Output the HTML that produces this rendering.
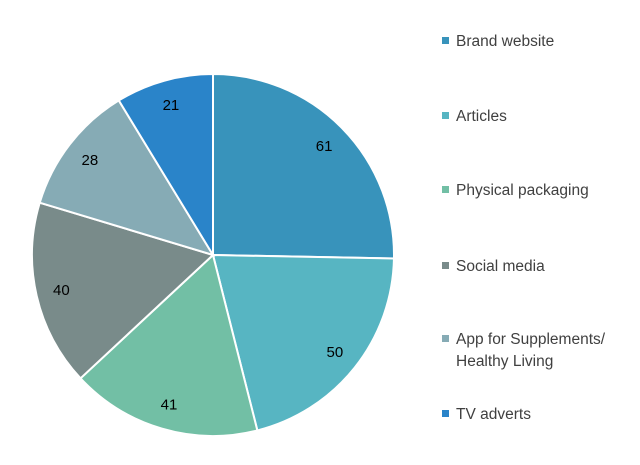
<!DOCTYPE html>
<html><head><meta charset="utf-8"><style>
html,body{margin:0;padding:0;background:#fff;width:640px;height:465px;overflow:hidden;font-family:"Liberation Sans",sans-serif}
</style></head><body>
<svg id="chart" width="640" height="465" xmlns="http://www.w3.org/2000/svg"></svg>
<script>
const categories=["Brand website","Articles","Physical packaging","Social media","App for Supplements/|Healthy Living","TV adverts"];
const values=[61,50,41,40,28,21];
const colors=["#3893bb","#57b5c2","#72bfa5","#798b8a","#86abb5","#2a84c9"];
const svg=document.getElementById('chart');
const NS="http://www.w3.org/2000/svg";
const cx=213,cy=255,r=181;
const total=values.reduce((a,b)=>a+b,0);
function pt(a,rr){return [cx+rr*Math.sin(a),cy-rr*Math.cos(a)];}
let acc=0;
values.forEach((v,i)=>{
  const a0=acc/total*2*Math.PI;acc+=v;const a1=acc/total*2*Math.PI;
  const p0=pt(a0,r),p1=pt(a1,r);
  const p=document.createElementNS(NS,'path');
  p.setAttribute('d',`M${cx},${cy}L${p0[0]},${p0[1]}A${r},${r} 0 ${a1-a0>Math.PI?1:0} 1 ${p1[0]},${p1[1]}Z`);
  p.setAttribute('fill',colors[i]);p.setAttribute('stroke','#fff');p.setAttribute('stroke-width','2');
  
  
  svg.appendChild(p);
  const m=(a0+a1)/2,lp=pt(m,r*0.86);
  const t=document.createElementNS(NS,'text');
  t.setAttribute('x',lp[0]);t.setAttribute('y',lp[1]+5);t.setAttribute('text-anchor','middle');
  t.setAttribute('font-size','15');t.setAttribute('fill','#000');t.textContent=v;
  
  
  svg.appendChild(t);
});
const legY=[40,115,189,265,338,413];
categories.forEach((c,i)=>{
  const g=document.createElementNS(NS,'g');
  
  
  const s=document.createElementNS(NS,'rect');
  s.setAttribute('x',442);s.setAttribute('y',legY[i]-3);s.setAttribute('width',7);s.setAttribute('height',7);s.setAttribute('fill',colors[i]);
  g.appendChild(s);
  c.split('|').forEach((line,j)=>{
    const t=document.createElementNS(NS,'text');
    t.setAttribute('x',456);t.setAttribute('y',legY[i]+6+j*22);t.setAttribute('font-size','15.5');t.setAttribute('fill','#404040');
    t.textContent=line;g.appendChild(t);
  });
  svg.appendChild(g);
});
</script>
</body></html>
